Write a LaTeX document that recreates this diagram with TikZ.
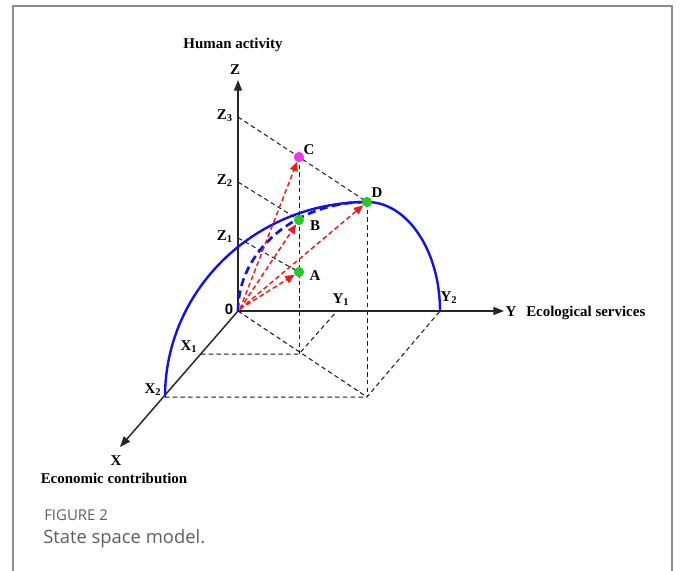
\documentclass[tikz,border=0pt]{standalone}
\usepackage{fontspec}
\setmainfont{Liberation Serif}
\newfontfamily\capfont{Open Sans}
\newfontfamily\zerofont{Liberation Sans}
\usetikzlibrary{arrows.meta}
\definecolor{frameg}{HTML}{8C8C8C}
\definecolor{capg}{HTML}{5E5E5E}
\definecolor{arcblue}{HTML}{1010F0}
\definecolor{ptgreen}{HTML}{22CC22}
\definecolor{ptmag}{HTML}{EE33EE}
\definecolor{arrred}{HTML}{F01818}
\tikzset{
  axisline/.style={line width=1.1pt, black!85},
  guide/.style={line width=0.75pt, black!90, dash pattern=on 3.4pt off 2.4pt},
  bluearc/.style={line width=1.8pt, arcblue},
  bluedash/.style={line width=2pt, arcblue, dash pattern=on 6pt off 3.5pt},
  redarrow/.style={line width=1.1pt, arrred, dash pattern=on 3.6pt off 2.2pt,
     -{Triangle[length=7pt,width=6pt]}, shorten >=3.8pt},
  lbl/.style={font=\bfseries\fontsize{11.2}{12}\selectfont, inner sep=0pt},
  pt/.style={circle, inner sep=0pt, minimum size=7.4pt},
}
\begin{document}
\begin{tikzpicture}[x=0.75pt, y=-0.75pt]
\useasboundingbox (0,0) rectangle (680,570);
% frame
\draw[frameg, line width=1.5pt] (13,580) -- (13,6) -- (672,6) -- (672,580);

% key coordinates
\coordinate (O) at (238,311);
\coordinate (Ztip) at (238,80);
\coordinate (Ytip) at (504,311);
\coordinate (Xtip) at (120,447);
\coordinate (Z3) at (238,117);
\coordinate (Z2) at (238,182);
\coordinate (Z1) at (238,238);
\coordinate (Y1) at (337,311);
\coordinate (Y2) at (440,311);
\coordinate (X1) at (201,354);
\coordinate (X2) at (165,397);
\coordinate (P1) at (299,354);
\coordinate (P2) at (367,397);

% points
\node[pt, fill=ptmag] (C) at (299,157) {};
\node[pt, fill=ptgreen] (B) at (299,220) {};
\node[pt, fill=ptgreen] (A) at (299,272) {};
\node[pt, fill=ptgreen] (D) at (367,202) {};

% dashed guide lines
\draw[guide] (Z3) -- (C.center) -- (D.center);
\draw[guide] (Z2) -- (B.center);
\draw[guide] (Z1) -- (A.center);
\draw[guide] (C.center) -- (P1);
\draw[guide] (D.center) -- (P2);
\draw[guide] (X1) -- (P1) -- (Y1);
\draw[guide] (X2) -- (P2) -- (Y2);
\draw[guide] (O) -- (P2);

% axes
\draw[axisline, -{Triangle[length=8pt,width=6pt]}] (O) -- (Ztip);
\draw[axisline, -{Triangle[length=8pt,width=6pt]}] (O) -- (Ytip);
\draw[axisline, -{Triangle[length=8pt,width=6pt]}] (O) -- (Xtip);

% blue arcs
\draw[bluearc] (X2) arc[start angle=180, end angle=270, x radius=202, y radius=195];
\draw[bluearc] (D.center) arc[start angle=270, end angle=360, x radius=73, y radius=109];
\draw[bluedash] (O) arc[start angle=180, end angle=270, x radius=129, y radius=109];

% red arrows
\coordinate (Os) at (240,309);
\draw[redarrow] (Os) -- (A.center);
\draw[redarrow] (Os) -- (B.center);
\draw[redarrow] (Os) -- (C.center);
\draw[redarrow] (Os) -- (D.center);

% redraw points on top
\node[pt, fill=ptmag] at (C) {};
\node[pt, fill=ptgreen] at (B) {};
\node[pt, fill=ptgreen] at (A) {};
\node[pt, fill=ptgreen] at (D) {};

% labels
\node[lbl] (lha) at (233,45) {Human activity};
\node[lbl] (lz) at (235,70) {Z};
\node[lbl, anchor=east] (lz3) at (233,116) {Z$_{\mathbf 3}$};
\node[lbl, anchor=east] (lz2) at (233,181) {Z$_{\mathbf 2}$};
\node[lbl, anchor=east] (lz1) at (233,237) {Z$_{\mathbf 1}$};
\node[font=\zerofont\bfseries\fontsize{11.2}{12}\selectfont, inner sep=0pt] (l0) at (229,309) {0};
\node[lbl] (ly1) at (341,300) {Y$_{\mathbf 1}$};
\node[lbl] (ly2) at (449,298) {Y$_{\mathbf 2}$};
\node[lbl] (lx1) at (189,347) {X$_{\mathbf 1}$};
\node[lbl] (lx2) at (153,390) {X$_{\mathbf 2}$};
\node[lbl] (ly) at (511,312) {Y};
\node[lbl, anchor=west] (les) at (526,313) {Ecological services};
\node[lbl] (lx) at (116,461) {X};
\node[lbl] (lec) at (114,478) {Economic contribution};
\node[lbl] (la) at (315,276) {A};
\node[lbl] (lb) at (315,226) {B};
\node[lbl] (lc) at (309,150) {C};
\node[lbl] (ld) at (377,193) {D};

% caption
\node[anchor=west, inner sep=0pt, text=capg, font=\capfont\fontsize{11.2}{13}\selectfont] (fig) at (44,515) {FIGURE 2};
\node[anchor=west, inner sep=0pt, text=capg, font=\capfont\fontsize{13.8}{16}\selectfont] (cap) at (43,539) {State space model.};
\end{tikzpicture}
\end{document}
